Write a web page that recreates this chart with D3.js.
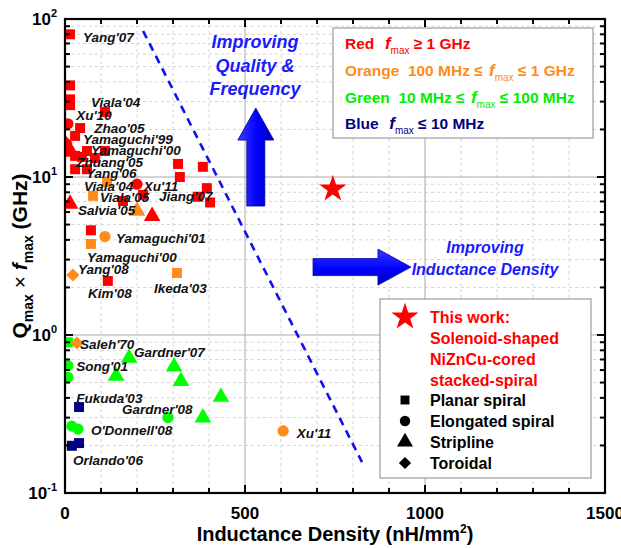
<!DOCTYPE html>
<html>
<head>
<meta charset="utf-8">
<script src="https://cdn.jsdelivr.net/npm/d3@7"></script>
<style>
  body { margin: 0; background: #fff; }
  svg { font-family: "Liberation Sans", Arial, sans-serif; }
</style>
</head>
<body>
<div id="chart"></div>
<script>
// ---- data (inductance density nH/mm^2, Qmax*fmax GHz, colour class) ----
const planar = [
  [14, 80, 'r'], [14, 38, 'r'], [14, 31, 'r'], [14, 28.5, 'r'], [111, 25.8, 'r'],
  [42, 20.4, 'r'], [28, 18.2, 'r'], [61, 14.6, 'r'], [111, 14.6, 'r'], [28, 13.6, 'r'],
  [47, 13.4, 'r'], [83, 13.2, 'r'], [28, 11.2, 'r'], [61, 11.2, 'r'], [314, 12.1, 'r'],
  [383, 11.6, 'r'], [319, 10.0, 'r'], [394, 8.5, 'r'], [403, 6.9, 'r'], [369, 7.5, 'r'],
  [161, 7.05, 'r'], [217, 7.7, 'r'], [72, 4.6, 'r'], [119, 2.2, 'r'],
  [117, 9.3, 'o'], [78, 7.6, 'o'], [72, 3.77, 'o'], [311, 2.47, 'o'],
  [8, 0.90, 'g'],
  [39, 0.35, 'b'], [19, 0.199, 'b'], [39, 0.207, 'b']
];
const elongated = [
  [8, 21.7, 'r'], [200, 9.0, 'r'],
  [111, 4.2, 'o'], [606, 0.247, 'o'],
  [8, 0.64, 'g'], [8, 0.54, 'g'], [286, 0.30, 'g'], [19, 0.265, 'g'], [36, 0.254, 'g']
];
const stripline = [
  [14, 6.75, 'r'], [242, 5.65, 'r'], [12, 15.0, 'r'], [5, 14.4, 'r'],
  [200, 6.1, 'o'],
  [178, 0.715, 'g'], [142, 0.55, 'g'], [303, 0.63, 'g'], [322, 0.51, 'g'], [433, 0.405, 'g'], [383, 0.30, 'g']
];
const toroidal = [
  [3, 16.5, 'r'],
  [22, 2.4, 'o'], [33, 0.89, 'o']
];
const thisWork = [[744, 8.4]];

// reference labels: text, x, y (data units, text baseline-left)
const refLabels = [
  ["Yang'07", 50, 71.5], ["Viala'04", 72, 27.7], ["Xu'10", 31, 22.9], ["Zhao'05", 81, 19.0],
  ["Yamaguchi'99", 50, 16.2], ["Yamaguchi'00", 72, 13.8], ["Zhuang'05", 31, 11.6], ["Yang'06", 58, 9.85],
  ["Viala'04", 53, 8.15], ["Xu'11", 219, 8.15], ["Viala'05", 97, 6.95], ["Jiang'07", 261, 7.05],
  ["Salvia'05", 36, 5.75], ["Yamaguchi'01", 142, 3.82], ["Yamaguchi'00", 61, 2.90], ["Yang'08", 36, 2.43],
  ["Kim'08", 64, 1.71], ["Ikeda'03", 247, 1.84], ["Saleh'70", 42, 0.815], ["Gardner'07", 192, 0.726],
  ["Song'01", 31, 0.592], ["Fukuda'03", 31, 0.371], ["Gardner'08", 158, 0.316], ["O'Donnell'08", 72, 0.233],
  ["Orlando'06", 22, 0.150], ["Xu'11", 644, 0.223]
];

// trend line (data units)
const trend = [[217, 84], [825, 0.157]];

const xTicks = [0, 500, 1000, 1500];
const yTicks = [0.1, 1, 10, 100];
const yTickExp = ['-1', '0', '1', '2'];

const colors = { r: '#ff0000', o: '#ff8c1a', g: '#00ff00', b: '#000080' };

// ---- layout ----
const W = 621, H = 548;
const x = d3.scaleLinear().domain([0, 1500]).range([65, 605]);
const y = d3.scaleLog().domain([0.1, 100]).range([493, 19]);

const svg = d3.select('#chart').append('svg').attr('width', W).attr('height', H);

const defs = svg.append('defs');
defs.append('clipPath').attr('id', 'plot')
  .append('rect').attr('x', 65).attr('y', 19).attr('width', 540).attr('height', 474);

function grad(id, x1, y1, x2, y2) {
  const g = defs.append('linearGradient').attr('id', id)
    .attr('x1', x1).attr('y1', y1).attr('x2', x2).attr('y2', y2);
  g.append('stop').attr('offset', '0%').attr('stop-color', '#3a3aff');
  g.append('stop').attr('offset', '55%').attr('stop-color', '#0000ff');
  g.append('stop').attr('offset', '100%').attr('stop-color', '#0000b0');
}
grad('gUp', '0%', '0%', '100%', '0%');
grad('gRight', '0%', '0%', '0%', '100%');

// ---- grid ----
const minorX = d3.range(100, 1500, 100).filter(d => d % 500 !== 0);
const minorY = [];
[0.1, 1, 10].forEach(dec => { for (let k = 2; k <= 9; k++) minorY.push(dec * k); });

const grid = svg.append('g');
grid.selectAll('.mx').data(minorX).enter().append('line')
  .attr('x1', d => x(d)).attr('x2', d => x(d)).attr('y1', 19).attr('y2', 493)
  .attr('stroke', '#d4d4d4').attr('stroke-dasharray', '3,3');
grid.selectAll('.my').data(minorY).enter().append('line')
  .attr('x1', 65).attr('x2', 605).attr('y1', d => y(d)).attr('y2', d => y(d))
  .attr('stroke', '#d4d4d4').attr('stroke-dasharray', '3,3');
grid.selectAll('.Mx').data([500, 1000]).enter().append('line')
  .attr('x1', d => x(d)).attr('x2', d => x(d)).attr('y1', 19).attr('y2', 493)
  .attr('stroke', '#a8a8a8');
grid.selectAll('.My').data([1, 10]).enter().append('line')
  .attr('x1', 65).attr('x2', 605).attr('y1', d => y(d)).attr('y2', d => y(d))
  .attr('stroke', '#a8a8a8');

// ---- trend line ----
svg.append('path')
  .attr('d', d3.line().x(d => x(d[0])).y(d => y(d[1]))(trend))
  .attr('fill', 'none').attr('stroke', '#1010f0').attr('stroke-width', 2.6)
  .attr('stroke-dasharray', '8,6');

// ---- markers ----
const pts = svg.append('g').attr('clip-path', 'url(#plot)');
function drawSet(data, type, size, rot) {
  pts.selectAll(null).data(data).enter().append('path')
    .attr('d', d3.symbol().type(type).size(size))
    .attr('transform', d => `translate(${x(d[0])},${y(d[1])}) rotate(${rot || 0})`)
    .attr('fill', d => colors[d[2]]);
}
drawSet(planar, d3.symbolSquare, 100);
drawSet(elongated, d3.symbolCircle, 100);
drawSet(stripline, d3.symbolTriangle, 120);
drawSet(toroidal, d3.symbolSquare, 85, 45);

svg.selectAll(null).data(thisWork).enter().append('path')
  .attr('d', d3.symbol().type(d3.symbolStar).size(230))
  .attr('transform', d => `translate(${x(d[0])},${y(d[1])})`)
  .attr('fill', '#ff0000');

// ---- labels ----
svg.append('g').selectAll('text').data(refLabels).enter().append('text')
  .attr('x', d => x(d[1])).attr('y', d => y(d[2]))
  .attr('font-size', 13.5).attr('font-weight', 'bold').attr('font-style', 'italic')
  .attr('fill', '#111').text(d => d[0]);

// ---- arrows (data anchors) ----
const upArrow = { x: 530, yTop: 27.3, yBase: 6.55 };   // tip / shaft bottom
const rightArrow = { y: 2.69, xStart: 689, xTip: 961 };

(function () {
  const cx = x(upArrow.x), tip = y(upArrow.yTop), bot = y(upArrow.yBase);
  const hw = 18, sw = 9, hh = 32;
  const p = `M${cx},${tip} L${cx + hw},${tip + hh} L${cx + sw},${tip + hh} L${cx + sw},${bot}
             L${cx - sw},${bot} L${cx - sw},${tip + hh} L${cx - hw},${tip + hh} Z`;
  svg.append('path').attr('d', p).attr('fill', 'url(#gUp)').attr('stroke', '#0000a0').attr('stroke-width', 0.8);
})();
(function () {
  const cy = y(rightArrow.y), x0 = x(rightArrow.xStart), tip = x(rightArrow.xTip);
  const hw = 18, sw = 8.5, hl = 33;
  const p = `M${tip},${cy} L${tip - hl},${cy - hw} L${tip - hl},${cy - sw} L${x0},${cy - sw}
             L${x0},${cy + sw} L${tip - hl},${cy + sw} L${tip - hl},${cy + hw} Z`;
  svg.append('path').attr('d', p).attr('fill', 'url(#gRight)').attr('stroke', '#0000a0').attr('stroke-width', 0.8);
})();

// annotation texts
const ann = svg.append('g').attr('fill', '#1a1aff').attr('font-weight', 'bold')
  .attr('font-style', 'italic').attr('text-anchor', 'middle');
[['Improving', 48], ['Quality &', 72], ['Frequency', 95]].forEach(a => {
  ann.append('text').attr('x', 255).attr('y', a[1]).attr('font-size', 18).text(a[0]);
});
[['Improving', 253], ['Inductance Density', 275]].forEach(a => {
  ann.append('text').attr('x', 485).attr('y', a[1]).attr('font-size', 16).text(a[0]);
});

// ---- colour legend ----
const lg1 = svg.append('g');
lg1.append('rect').attr('x', 333).attr('y', 28).attr('width', 260).attr('height', 110)
  .attr('fill', '#fff').attr('stroke', '#888').attr('stroke-width', 1);
const lg1Rows = [
  { c: '#ff0000', y: 49, parts: [['Red  '], ['f', 'f'], ['max', 's'], [' \u2265 1 GHz']] },
  { c: '#ff8c1a', y: 76, parts: [['Orange  100 MHz \u2264 '], ['f', 'f'], ['max', 's'], [' \u2264 1 GHz']] },
  { c: '#00ee00', y: 103, parts: [['Green  10 MHz \u2264 '], ['f', 'f'], ['max', 's'], [' \u2264 100 MHz']] },
  { c: '#000080', y: 129, parts: [['Blue  '], ['f', 'f'], ['max', 's'], [' \u2264 10 MHz']] }
];
lg1Rows.forEach(r => {
  const t = lg1.append('text').attr('x', 345).attr('y', r.y).attr('fill', r.c)
    .attr('font-size', 15.5).attr('font-weight', 'bold').attr('xml:space', 'preserve');
  r.parts.forEach(p => {
    const ts = t.append('tspan').text(p[0]);
    if (p[1] === 'f') ts.attr('font-style', 'italic').attr('font-size', 17).attr('dx', 2);
    if (p[1] === 's') ts.attr('font-size', 10).attr('font-weight', 'normal').attr('dy', 5);
    if (p[1] === undefined && t.selectAll('tspan').size() > 1) ts.attr('dy', -5);
  });
});

// ---- shape legend ----
const lg2 = svg.append('g');
lg2.append('rect').attr('x', 380).attr('y', 299).attr('width', 211).attr('height', 179)
  .attr('fill', '#fff').attr('stroke', '#888').attr('stroke-width', 1);
lg2.append('path').attr('d', d3.symbol().type(d3.symbolStar).size(230))
  .attr('transform', 'translate(405,317)').attr('fill', '#ff0000');
['This work:', 'Solenoid-shaped', 'NiZnCu-cored', 'stacked-spiral'].forEach((s, i) => {
  lg2.append('text').attr('x', 430).attr('y', 323 + i * 21).attr('fill', '#ff0000')
    .attr('font-size', 16).attr('font-weight', 'bold').text(s);
});
const shapeRows = [
  [d3.symbolSquare, 80, 0, 'Planar spiral'],
  [d3.symbolCircle, 85, 0, 'Elongated spiral'],
  [d3.symbolTriangle, 110, 0, 'Stripline'],
  [d3.symbolSquare, 75, 45, 'Toroidal']
];
shapeRows.forEach((r, i) => {
  const cy = 400 + i * 21;
  lg2.append('path').attr('d', d3.symbol().type(r[0]).size(r[1]))
    .attr('transform', `translate(405,${cy}) rotate(${r[2]})`).attr('fill', '#000');
  lg2.append('text').attr('x', 430).attr('y', cy + 6).attr('fill', '#000')
    .attr('font-size', 16).attr('font-weight', 'bold').text(r[3]);
});

// ---- axes frame & ticks (inward) ----
const ax = svg.append('g').attr('stroke', '#000');
ax.append('rect').attr('x', 65).attr('y', 19).attr('width', 540).attr('height', 474)
  .attr('fill', 'none').attr('stroke-width', 2.2);
const xAll = d3.range(0, 1501, 100);
xAll.forEach(d => {
  const len = d % 500 === 0 ? 8 : 5;
  ax.append('line').attr('x1', x(d)).attr('x2', x(d)).attr('y1', 493).attr('y2', 493 - len).attr('stroke-width', 2);
  ax.append('line').attr('x1', x(d)).attr('x2', x(d)).attr('y1', 19).attr('y2', 19 + len).attr('stroke-width', 2);
});
const yAll = yTicks.concat(minorY);
yAll.forEach(d => {
  const len = yTicks.includes(d) ? 8 : 5;
  ax.append('line').attr('x1', 65).attr('x2', 65 + len).attr('y1', y(d)).attr('y2', y(d)).attr('stroke-width', 2);
  ax.append('line').attr('x1', 605).attr('x2', 605 - len).attr('y1', y(d)).attr('y2', y(d)).attr('stroke-width', 2);
});

// tick labels
svg.append('g').selectAll('text').data(xTicks).enter().append('text')
  .attr('x', d => x(d)).attr('y', 519).attr('text-anchor', 'middle')
  .attr('font-size', 17).attr('font-weight', 'bold').text(d => d);
yTicks.forEach((d, i) => {
  const t = svg.append('text').attr('x', 57).attr('y', y(d) + 6).attr('text-anchor', 'end')
    .attr('font-size', 17).attr('font-weight', 'bold');
  t.append('tspan').text('10');
  t.append('tspan').attr('dy', -8).attr('font-size', 11).text(yTickExp[i]);
});

// axis titles
const xt = svg.append('text').attr('x', 335).attr('y', 541).attr('text-anchor', 'middle')
  .attr('font-size', 20).attr('font-weight', 'bold');
xt.append('tspan').text('Inductance Density (nH/mm');
xt.append('tspan').attr('dy', -8).attr('font-size', 12).text('2');
xt.append('tspan').attr('dy', 8).text(')');

const yt = svg.append('text').attr('transform', 'translate(27,256) rotate(-90)')
  .attr('text-anchor', 'middle').attr('font-size', 21).attr('font-weight', 'bold');
yt.append('tspan').text('Q');
yt.append('tspan').attr('dy', 6).attr('font-size', 14).text('max');
yt.append('tspan').attr('dy', -6).attr('font-weight', 'normal').text(' \u00d7 ');
yt.append('tspan').attr('font-style', 'italic').text('f');
yt.append('tspan').attr('dy', 6).attr('font-size', 14).text('max');
yt.append('tspan').attr('dy', -6).text(' (GHz)');
</script>
</body>
</html>
